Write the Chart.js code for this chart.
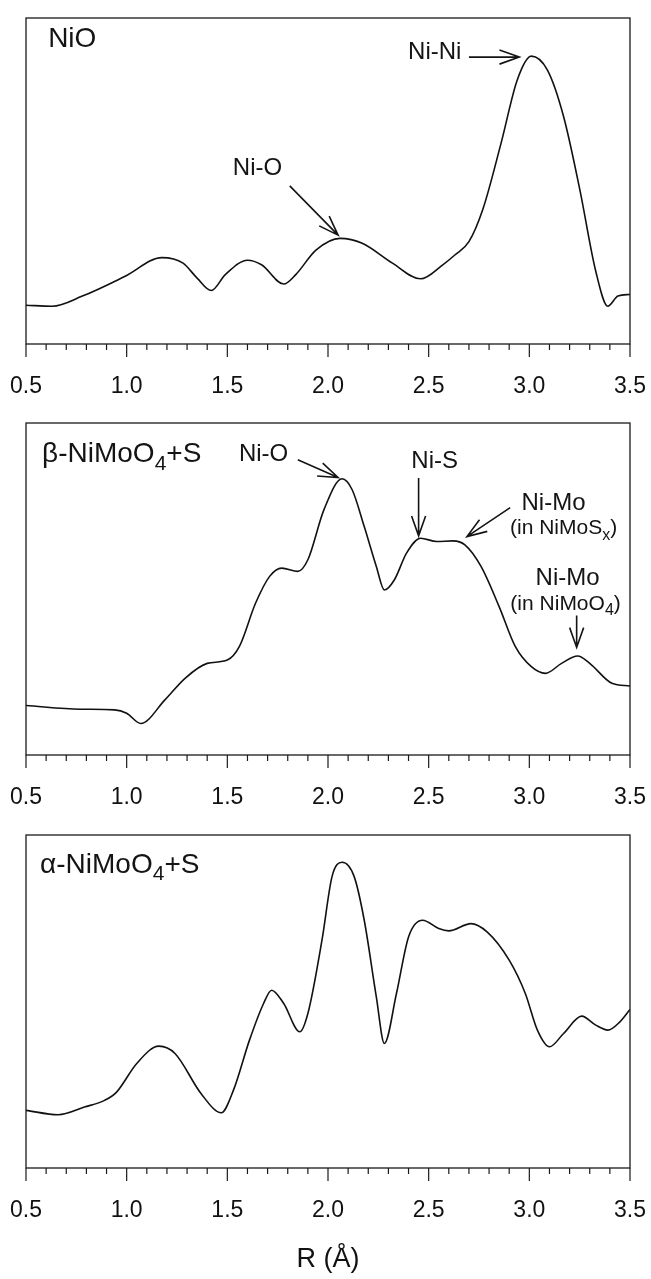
<!DOCTYPE html>
<html>
<head>
<meta charset="utf-8">
<script src="https://cdn.jsdelivr.net/npm/chart.js@4.4.1/dist/chart.umd.min.js"></script>
<style>
  body { margin: 0; background: #fff; width: 651px; height: 1279px; position: relative; overflow: hidden; }
  canvas { position: absolute; left: 0; }
</style>
</head>
<body>
<canvas id="nio" width="651" height="404" style="top:0px"></canvas>
<canvas id="beta" width="651" height="410" style="top:405px"></canvas>
<canvas id="alpha" width="651" height="459" style="top:817px"></canvas>
<script>
const FONT = '"Liberation Sans", Arial, Helvetica, sans-serif';

// R axis labels (Å)
const rTickLabels = ["0.5", "1.0", "1.5", "2.0", "2.5", "3.0", "3.5"];

// NiO reference
const nioR  = [0.50, 0.63, 0.78, 0.99, 1.175, 1.28, 1.35, 1.42, 1.49, 1.60, 1.67, 1.78, 1.84, 1.94, 2.06, 2.17, 2.32, 2.46, 2.57, 2.63, 2.70, 2.77, 2.86, 2.94, 3.01, 3.09, 3.17, 3.25, 3.33, 3.39, 3.44, 3.50];
const nioFT = [11.9, 11.6, 14.7, 20.7, 26.5, 24.8, 20.2, 16.4, 21.3, 25.7, 24.3, 18.4, 21.3, 28.8, 32.4, 30.9, 24.8, 20.0, 24.3, 27.3, 31.4, 41.5, 61.7, 81.0, 88.3, 84.0, 69.8, 47.6, 22.3, 11.6, 14.7, 15.2];

// beta-NiMoO4 + S
const betaR  = [0.50, 0.77, 0.94, 1.00, 1.07, 1.19, 1.29, 1.40, 1.50, 1.56, 1.64, 1.71, 1.77, 1.85, 1.90, 1.98, 2.07, 2.12, 2.18, 2.24, 2.28, 2.33, 2.39, 2.46, 2.54, 2.62, 2.68, 2.76, 2.85, 2.93, 3.01, 3.08, 3.16, 3.24, 3.30, 3.41, 3.50];
const betaFT = [14.9, 13.8, 13.6, 12.6, 9.5, 16.6, 23.1, 27.6, 28.6, 32.7, 45.7, 53.8, 56.3, 55.3, 58.8, 73.9, 83.2, 79.9, 68.8, 56.8, 49.7, 52.8, 60.8, 65.3, 64.3, 64.5, 63.3, 56.8, 44.7, 32.7, 26.6, 24.6, 27.6, 29.8, 27.6, 21.6, 20.8];

// alpha-NiMoO4 + S
const alphaR  = [0.50, 0.66, 0.79, 0.89, 0.95, 1.05, 1.16, 1.24, 1.37, 1.47, 1.53, 1.61, 1.68, 1.72, 1.78, 1.86, 1.90, 1.97, 2.02, 2.07, 2.13, 2.18, 2.24, 2.28, 2.34, 2.40, 2.47, 2.55, 2.60, 2.71, 2.79, 2.90, 2.98, 3.04, 3.10, 3.17, 3.26, 3.33, 3.39, 3.45, 3.50];
const alphaFT = [17.3, 16.0, 18.3, 20.3, 22.8, 31.4, 36.6, 34.4, 22.3, 16.6, 23.3, 38.4, 49.4, 53.4, 49.4, 40.9, 46.4, 68.4, 87.5, 91.8, 87.5, 74.4, 51.4, 37.4, 52.4, 69.4, 74.4, 71.9, 71.2, 73.4, 70.9, 62.4, 52.4, 41.4, 36.4, 40.4, 45.6, 42.9, 41.4, 43.9, 47.6];

// draws text made of normal and subscript pieces
function drawRich(ctx, parts, x, y, size, align) {
  const subSize = Math.round(size * 0.74);
  let total = 0;
  const widths = parts.map(p => {
    ctx.font = (p[1] ? subSize : size) + "px " + FONT;
    const w = ctx.measureText(p[0]).width;
    total += w;
    return w;
  });
  let cx = align === "center" ? x - total / 2 : x;
  ctx.textBaseline = "middle";
  ctx.textAlign = "left";
  parts.forEach((p, i) => {
    ctx.font = (p[1] ? subSize : size) + "px " + FONT;
    ctx.fillText(p[0], cx, p[1] ? y + size * 0.34 : y);
    cx += widths[i];
  });
}

// box around the plot area plus major/minor ticks below it
const framePlugin = {
  id: "frame",
  afterDraw(chart) {
    const ctx = chart.ctx;
    const a = chart.chartArea;
    const xs = chart.scales.x;
    ctx.save();
    ctx.strokeStyle = "#1a1a1a";
    ctx.lineWidth = 1.3;
    ctx.strokeRect(a.left, a.top, a.right - a.left, a.bottom - a.top);
    ctx.lineWidth = 1.2;
    xs.ticks.forEach(t => {
      const px = xs.getPixelForValue(t.value);
      const major = Math.round(t.value * 10) % 5 === 0;
      ctx.beginPath();
      ctx.moveTo(px, a.bottom);
      ctx.lineTo(px, a.bottom + (major ? 13 : 6));
      ctx.stroke();
    });
    ctx.restore();
  }
};

// peak labels and open-headed arrows
const notesPlugin = {
  id: "notes",
  afterDatasetsDraw(chart, args, opts) {
    const ctx = chart.ctx;
    const xs = chart.scales.x, ys = chart.scales.y;
    ctx.save();
    ctx.fillStyle = "#141414";
    ctx.strokeStyle = "#141414";
    (opts.labels || []).forEach(l => {
      drawRich(ctx, l.parts, xs.getPixelForValue(l.x), ys.getPixelForValue(l.y), l.size, l.align);
    });
    ctx.lineWidth = 1.6;
    (opts.arrows || []).forEach(ar => {
      const x0 = xs.getPixelForValue(ar.from[0]), y0 = ys.getPixelForValue(ar.from[1]);
      const x1 = xs.getPixelForValue(ar.to[0]), y1 = ys.getPixelForValue(ar.to[1]);
      const ang = Math.atan2(y1 - y0, x1 - x0);
      const wing = 21, spread = 0.34;
      ctx.beginPath();
      ctx.moveTo(x0, y0);
      ctx.lineTo(x1, y1);
      ctx.moveTo(x1 - wing * Math.cos(ang - spread), y1 - wing * Math.sin(ang - spread));
      ctx.lineTo(x1, y1);
      ctx.lineTo(x1 - wing * Math.cos(ang + spread), y1 - wing * Math.sin(ang + spread));
      ctx.stroke();
    });
    ctx.restore();
  }
};

function makePanel(id, rs, amps, notes, axisHeight, showTitle) {
  const pts = rs.map((r, i) => ({ x: r, y: amps[i] }));
  return new Chart(document.getElementById(id), {
    type: "line",
    data: {
      datasets: [{
        data: pts,
        borderColor: "#111",
        borderWidth: 1.6,
        pointRadius: 0,
        fill: false,
        cubicInterpolationMode: "monotone"
      }]
    },
    options: {
      responsive: false,
      animation: false,
      devicePixelRatio: 1,
      layout: { padding: { top: 18, left: 26, right: 21, bottom: 0 } },
      scales: {
        x: {
          type: "linear",
          min: 0.5,
          max: 3.5,
          border: { display: false },
          grid: { display: false, drawTicks: false },
          ticks: {
            stepSize: 0.1,
            autoSkip: false,
            maxRotation: 0,
            padding: 29,
            color: "#111",
            font: { family: FONT, size: 23 },
            callback: v => {
              const k = Math.round(v * 10);
              return k % 5 === 0 ? rTickLabels[(k - 5) / 5] : "";
            }
          },
          title: {
            display: showTitle,
            text: "R (Å)",
            color: "#111",
            font: { family: FONT, size: 27 },
            padding: { top: 0, bottom: 0 }
          },
          afterFit: s => {
            s.height = axisHeight;
            // end labels may hang past the frame, as in the printed figure
            s.paddingLeft = 0;
            s.paddingRight = 0;
          }
        },
        y: { display: false, min: 0, max: 100 }
      },
      plugins: {
        legend: { display: false },
        tooltip: { enabled: false },
        notes: notes
      }
    },
    plugins: [framePlugin, notesPlugin]
  });
}

makePanel("nio", nioR, nioFT, {
  labels: [
    { x: 0.61, y: 93.5, parts: [["NiO"]], size: 28, align: "left" },
    { x: 1.65, y: 54, parts: [["Ni-O"]], size: 24, align: "center" },
    { x: 2.53, y: 89.5, parts: [["Ni-Ni"]], size: 24, align: "center" }
  ],
  arrows: [
    { from: [1.81, 48.5], to: [2.05, 33.4] },
    { from: [2.70, 88], to: [2.95, 88] }
  ]
}, 60, false);

makePanel("beta", betaR, betaFT, {
  labels: [
    { x: 0.58, y: 90.5, parts: [["β-NiMoO"], ["4", true], ["+S"]], size: 28, align: "left" },
    { x: 1.68, y: 90.4, parts: [["Ni-O"]], size: 24, align: "center" },
    { x: 2.53, y: 88.4, parts: [["Ni-S"]], size: 24, align: "center" },
    { x: 3.12, y: 75.9, parts: [["Ni-Mo"]], size: 24, align: "center" },
    { x: 3.17, y: 68.3, parts: [["(in NiMoS"], ["x", true], [")"]], size: 21, align: "center" },
    { x: 3.19, y: 53.2, parts: [["Ni-Mo"]], size: 24, align: "center" },
    { x: 3.18, y: 45.5, parts: [["(in NiMoO"], ["4", true], [")"]], size: 21, align: "center" }
  ],
  arrows: [
    { from: [1.85, 88.9], to: [2.05, 83.6] },
    { from: [2.45, 83.4], to: [2.45, 66.0] },
    { from: [2.905, 74.5], to: [2.69, 65.8] },
    { from: [3.235, 42.0], to: [3.235, 32.4] }
  ]
}, 60, false);

makePanel("alpha", alphaR, alphaFT, {
  labels: [
    { x: 0.57, y: 91, parts: [["α-NiMoO"], ["4", true], ["+S"]], size: 28, align: "left" }
  ],
  arrows: []
}, 108, true);
</script>
</body>
</html>
